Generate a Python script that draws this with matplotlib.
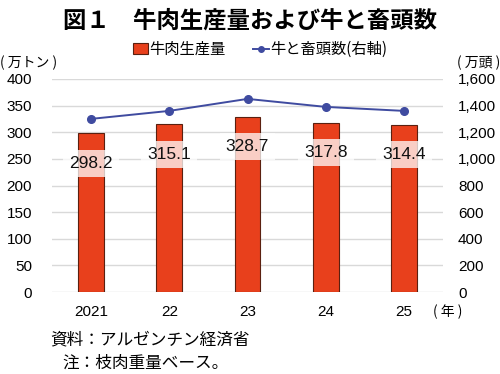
import matplotlib
matplotlib.use("Agg")
import matplotlib.pyplot as plt
from matplotlib.lines import Line2D
from matplotlib.patches import Patch

plt.rcParams['font.family'] = ['Liberation Sans', 'Noto Sans CJK JP', 'DejaVu Sans']
JP = ['Noto Sans CJK JP', 'DejaVu Sans']

years = ["2021", "22", "23", "24", "25"]
production = [298.2, 315.1, 328.7, 317.8, 314.4]
cattle = [1300, 1360, 1450, 1390, 1360]
left_ticks = [0, 50, 100, 150, 200, 250, 300, 350, 400]
right_ticks = [0, 200, 400, 600, 800, 1000, 1200, 1400, 1600]

bar_color = "#E8401C"
line_color = "#3F4BA0"

fig = plt.figure(figsize=(5.0, 3.74), dpi=100)
ax = fig.add_axes([0.104, 0.219, 0.782, 0.570])
x = list(range(len(years)))

ax.set_axisbelow(True)
ax.bar(x, production, width=0.33, color=bar_color, edgecolor="#5a2010", linewidth=0.8, zorder=2)
ax.set_ylim(0, 400)
ax.set_yticks(left_ticks)
ax.set_xlim(-0.5, len(years) - 0.5)
ax.set_xticks(x)
ax.set_xticklabels(years)
ax.grid(axis='y', color="#d9d9d9", linewidth=1.0, zorder=0)
for s in ax.spines.values():
    s.set_visible(False)
ax.tick_params(axis='both', length=0, labelsize=11)
ax.tick_params(axis='y', pad=14.4)
ax.tick_params(axis='x', pad=9)

for xi, v in zip(x, production):
    ax.annotate(f"{v:.1f}", xy=(xi, v), xytext=(0, -30), textcoords='offset pixels',
                ha='center', va='center', fontsize=12.5, color="#111111", zorder=5,
                bbox=dict(boxstyle='square,pad=0.35', facecolor='white', edgecolor='none', alpha=0.75))

ax2 = ax.twinx()
ax2.plot(x, cattle, color=line_color, marker='o', markersize=5.5, linewidth=1.4, zorder=4)
ax2.set_ylim(0, 1600)
ax2.set_yticks(right_ticks)
ax2.set_yticklabels([f"{t:,}" for t in right_ticks])
for s in ax2.spines.values():
    s.set_visible(False)
ax2.tick_params(axis='y', length=0, labelsize=11, pad=10.8)

fig.text(0.5, 0.945, "図１　牛肉生産量および牛と畜頭数", ha='center', va='center',
         fontsize=16.8, fontweight='bold', family=JP)
fig.text(0.0, 0.832, "( 万トン )", ha='left', va='center', fontsize=10, family=JP)
fig.text(1.0, 0.832, "( 万頭 )", ha='right', va='center', fontsize=10, family=JP)
fig.text(0.866, 0.166, "( 年 )", ha='left', va='center', fontsize=10, family=JP)
fig.text(0.10, 0.09, "資料：アルゼンチン経済省", ha='left', va='center', fontsize=12, family=JP)
fig.text(0.124, 0.03, "注：枝肉重量ベース。", ha='left', va='center', fontsize=12, family=JP)

handles = [Patch(facecolor=bar_color, edgecolor="#5a2010", linewidth=0.8),
           Line2D([0], [0], color=line_color, marker='o', markersize=4, linewidth=1.4)]
fig.legend(handles, ["牛肉生産量", "牛と畜頭数(右軸)"], loc='center', bbox_to_anchor=(0.52, 0.868),
           ncol=2, frameon=False, prop={'family': JP, 'size': 11}, handlelength=1.0,
           handletextpad=0.1, columnspacing=1.8, borderpad=0)

fig.savefig("out.png", dpi=100)
